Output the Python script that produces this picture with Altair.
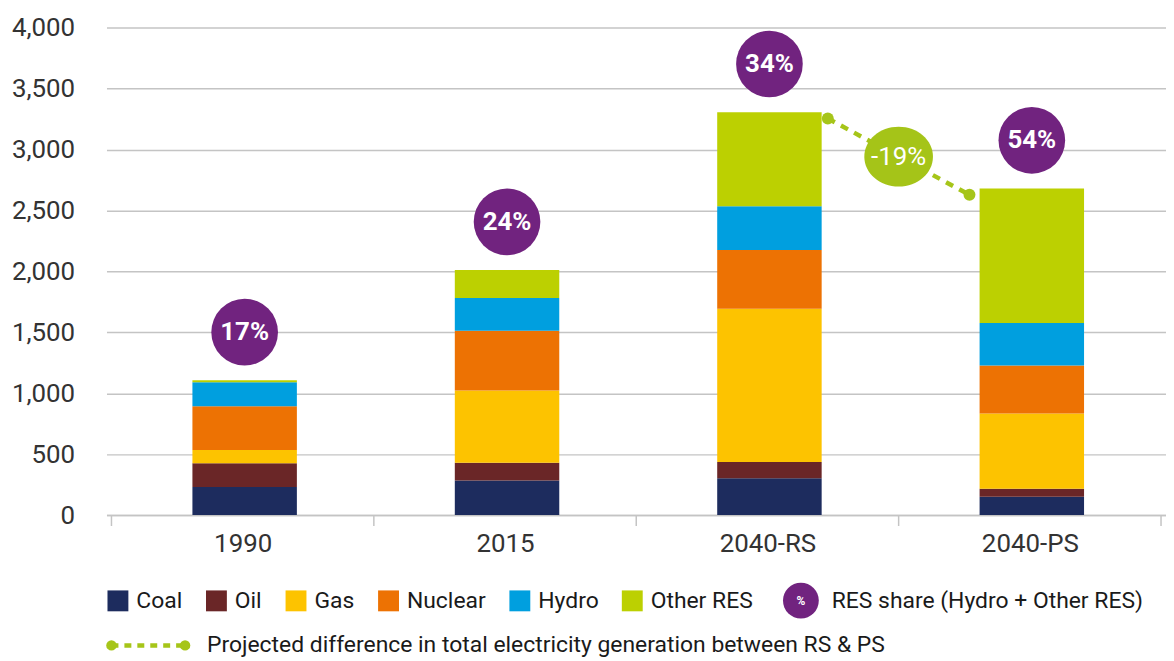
import altair as alt
import pandas as pd

# ---- data ----
categories = ["1990", "2015", "2040-RS", "2040-PS"]
sources = ["Coal", "Oil", "Gas", "Nuclear", "Hydro", "Other RES"]
coal = [230, 283, 302, 150]
oil = [196, 147, 133, 65]
gas = [108, 593, 1258, 618]
nuclear = [359, 490, 481, 394]
hydro = [197, 269, 359, 349]
other_res = [16, 229, 773, 1104]
res_share = ["17%", "24%", "34%", "54%"]
diff_pair = ["2040-RS", "2040-PS"]
diff_label = "-19%"
y_ticks = [0, 500, 1000, 1500, 2000, 2500, 3000, 3500, 4000]

colors = ["#1d2c5e", "#6a2627", "#fdc300", "#ed7203", "#009fdf", "#bcd001"]
purple = "#71237f"
green = "#a6c519"
grid = "#c4c4c4"
FONT = "Roboto"

series = [coal, oil, gas, nuclear, hydro, other_res]
rows = []
for i, c in enumerate(categories):
    for j, (s, vals) in enumerate(zip(sources, series)):
        rows.append({"idx": i, "cat": c, "source": s, "ord": j, "value": vals[i]})
df = pd.DataFrame(rows)

totals = [sum(v[i] for v in series) for i in range(len(categories))]
LABEL_GAP = 395
lab_df = pd.DataFrame({"idx": list(range(len(categories))), "label": res_share,
                       "ly": [t + LABEL_GAP for t in totals]})

DOT_OFF = 0.23
DOT_DROP = 52
ia, ib = categories.index(diff_pair[0]), categories.index(diff_pair[1])
diff_df = pd.DataFrame({"idx": [ia + DOT_OFF, ib - DOT_OFF],
                        "ly": [totals[ia] - DOT_DROP, totals[ib] - DOT_DROP]})
diff_mid = pd.DataFrame({"idx": [diff_df["idx"].mean()], "ly": [diff_df["ly"].mean()],
                         "label": [diff_label]})
tick_df = pd.DataFrame({"idx": [i - 0.5 for i in range(len(categories) + 1)]})

W, H = 1065, 490
xscale = alt.Scale(domain=[-0.5, len(categories) - 0.5], nice=False, zero=False)
yscale = alt.Scale(domain=[0, 4000], nice=False)
label_expr = "[" + ",".join(f"'{c}'" for c in categories) + "][datum.value]"

xaxis = alt.Axis(values=list(range(len(categories))), labelExpr=label_expr,
                 title=None, grid=False, ticks=False, labelPadding=16,
                 labelFontSize=26, labelFont=FONT, labelColor="#333333",
                 labelFlush=False, domainColor=grid, domainWidth=1.5)
yaxis = alt.Axis(values=y_ticks, format=",d", title=None, domain=False,
                 ticks=False, labelPadding=32, gridColor=grid, gridWidth=1.5,
                 labelFontSize=26, labelFont=FONT, labelColor="#333333")

ROW1, ROW2 = 576, 621

bars = alt.Chart(df).mark_bar(size=105, xOffset=2).encode(
    x=alt.X("idx:Q", scale=xscale, axis=xaxis),
    y=alt.Y("value:Q", stack="zero", scale=yscale, axis=yaxis),
    color=alt.Color("source:N", scale=alt.Scale(domain=sources, range=colors),
                    legend=alt.Legend(orient="none", legendX=0, legendY=ROW1 - 11.5,
                                      direction="horizontal", columns=6, title=None,
                                      symbolType="square", symbolSize=441,
                                      symbolStrokeWidth=0, symbolOpacity=1,
                                      labelFont=FONT, labelFontSize=23,
                                      labelColor="#1a1a1a", labelOffset=7,
                                      columnPadding=22, padding=0)),
    order=alt.Order("ord:Q"),
)

xq = alt.X("idx:Q", scale=xscale, axis=xaxis)
yq = alt.Y("ly:Q", scale=yscale, axis=yaxis)

circles = alt.Chart(lab_df).mark_point(shape="circle", filled=True, size=4489,
                                       color=purple, opacity=1, xOffset=2).encode(x=xq, y=yq)
circ_text = alt.Chart(lab_df).mark_text(font=FONT, fontWeight="bold", fontSize=26,
                                        color="white", baseline="middle", dx=2).encode(
    x=xq, y=yq, text="label:N")

dline = alt.Chart(diff_df).mark_line(strokeDash=[8, 7], strokeWidth=4.5,
                                     color=green).encode(x=xq, y=yq)
ddots = alt.Chart(diff_df).mark_circle(size=144, color=green, opacity=1).encode(x=xq, y=yq)
ellipse_path = "M -1.15 0 A 1.15 1 0 1 0 1.15 0 A 1.15 1 0 1 0 -1.15 0 Z"
dell = alt.Chart(diff_mid).mark_point(shape=ellipse_path, filled=True, size=3600,
                                      color="#a5c418", opacity=1).encode(x=xq, y=yq)
dtext = alt.Chart(diff_mid).mark_text(font=FONT, fontSize=26, color="white",
                                      baseline="middle").encode(x=xq, y=yq, text="label:N")

ticks = alt.Chart(tick_df).mark_rule(color=grid, strokeWidth=1.5).encode(
    x=xq, y=alt.value(H), y2=alt.value(H + 11))

one = pd.DataFrame({"k": [0]})
leg_circ = alt.Chart(one).mark_point(shape="circle", filled=True, size=1296,
                                     color=purple, opacity=1).encode(
    x=alt.value(698), y=alt.value(ROW1))
leg_pct = alt.Chart(one).mark_text(font=FONT, fontWeight="bold", fontSize=12,
                                   color="white", baseline="middle").encode(
    x=alt.value(698), y=alt.value(ROW1), text=alt.value("%"))
leg_res = alt.Chart(one).mark_text(font=FONT, fontSize=23, color="#1a1a1a",
                                   align="left", baseline="middle").encode(
    x=alt.value(729), y=alt.value(ROW1), text=alt.value("RES share (Hydro + Other RES)"))
leg_line = alt.Chart(one).mark_rule(strokeDash=[7, 6], strokeWidth=4.5, color=green).encode(
    x=alt.value(5), x2=alt.value(79), y=alt.value(ROW2))
leg_dot1 = alt.Chart(one).mark_circle(size=110, color=green, opacity=1).encode(
    x=alt.value(5), y=alt.value(ROW2))
leg_dot2 = alt.Chart(one).mark_circle(size=110, color=green, opacity=1).encode(
    x=alt.value(79), y=alt.value(ROW2))
leg_diff = alt.Chart(one).mark_text(font=FONT, fontSize=23, color="#1a1a1a",
                                    align="left", baseline="middle").encode(
    x=alt.value(101), y=alt.value(ROW2),
    text=alt.value("Projected difference in total electricity generation between RS & PS"))

chart = alt.layer(
    bars, ticks, circles, circ_text, dline, ddots, dell, dtext,
    leg_circ, leg_pct, leg_res, leg_line, leg_dot1, leg_dot2, leg_diff,
).properties(
    width=W, height=H,
    background="white",
    autosize=alt.AutoSizeParams(type="none"),
    padding={"left": 99, "right": 0, "top": 18, "bottom": 144},
).configure_view(strokeWidth=0)

chart.save("out.html", embed_options={"renderer": "svg", "actions": False})
